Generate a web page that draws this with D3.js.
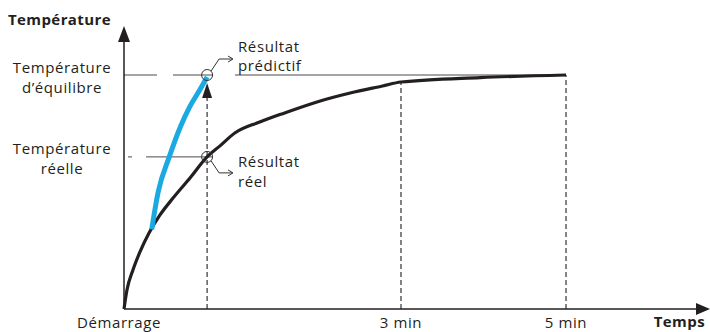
<!DOCTYPE html>
<html>
<head>
<meta charset="utf-8">
<script src="https://cdn.jsdelivr.net/npm/d3@7"></script>
<style>
  body { margin: 0; background: #fff; }
  text { font-family: "Open Sans", sans-serif; fill: #231f20; font-size: 15px; letter-spacing: 0.6px; }
  text.bold { font-weight: bold; letter-spacing: 0.4px; }
</style>
</head>
<body>
<div id="chart_area"></div>
<script>
var width = 710, height = 332;

// time in minutes, temperature in % of equilibrium
var realTime = [0, 0.032, 0.097, 0.173, 0.271, 0.39, 0.531, 0.715, 0.9, 1.04, 1.2, 1.47, 1.74, 2.09, 2.45, 2.8, 3.0, 3.96, 5];
var realTemp = [0, 8.1, 16.7, 24.4, 32.5, 40.2, 47.4, 56.0, 65, 69.7, 75.2, 79.9, 83.8, 88.5, 92.3, 95.3, 97.0, 98.9, 100];

var predTime = [0.30, 0.37, 0.49, 0.61, 0.71, 0.82, 0.90];
var predTemp = [34.0, 50.0, 65.0, 77.8, 86.3, 93.6, 99.1];

var tickTimes = [0, 3, 5];
var tickLabels = ["Démarrage", "3 min", "5 min"];

var equilibriumTemp = 100, measuredTemp = 65, predictTime = 0.9;

var svg = d3.select("#chart_area")
    .append("svg")
    .attr("width", width)
    .attr("height", height);

var x = d3.scaleLinear().domain([0, 3, 5]).range([124, 401, 566]);
var y = d3.scaleLinear().domain([0, 100]).range([309, 75]);

function hline(x1, x2, v) {
    svg.append("line").attr("x1", x1).attr("x2", x2)
        .attr("y1", y(v)).attr("y2", y(v))
        .attr("stroke", "#4a4a4a").attr("stroke-width", 1);
}
// reference lines
hline(124, 157, equilibriumTemp);
hline(173, x(predictTime) + 6, equilibriumTemp);
hline(235, x(5), equilibriumTemp);
hline(128, 132, measuredTemp);
hline(146, 213, measuredTemp);

// vertical dashed lines
var tops = [y(equilibriumTemp) + 22, y(97.0), y(equilibriumTemp)];
[predictTime, 3, 5].forEach(function (t, i) {
    svg.append("line")
        .attr("x1", x(t)).attr("x2", x(t))
        .attr("y1", y(0)).attr("y2", tops[i])
        .attr("stroke", "#333").attr("stroke-width", 1.2)
        .attr("stroke-dasharray", "5,3");
});

// arrow up on the prediction line
var ax = x(predictTime), ay = y(equilibriumTemp) + 8;
svg.append("path")
    .attr("d", "M" + ax + "," + ay + "L" + (ax - 5) + "," + (ay + 15) + "L" + (ax + 5) + "," + (ay + 15) + "Z")
    .attr("fill", "#231f20");

// curves
var line = d3.line()
    .x(function (d) { return x(d[0]); })
    .y(function (d) { return y(d[1]); })
    .curve(d3.curveMonotoneX);

svg.append("path")
    .datum(realTime.map(function (t, i) { return [t, realTemp[i]]; }))
    .attr("d", line)
    .attr("fill", "none")
    .attr("stroke", "#231f20")
    .attr("stroke-width", 3.2);

svg.append("path")
    .datum(predTime.map(function (t, i) { return [t, predTemp[i]]; }))
    .attr("d", line)
    .attr("fill", "none")
    .attr("stroke", "#1ba9e1")
    .attr("stroke-width", 5);

// circles
[equilibriumTemp, measuredTemp].forEach(function (v) {
    svg.append("circle")
        .attr("cx", x(predictTime)).attr("cy", y(v)).attr("r", 5.5)
        .attr("fill", "none").attr("stroke", "#333").attr("stroke-width", 1);
});

// callouts
function callout(cy, dir) {
    var sx = x(predictTime) + 4, sy = cy + dir * 4;
    var ky = cy + dir * 16;
    svg.append("path")
        .attr("d", "M" + sx + "," + sy + "L" + (sx + 8) + "," + ky + "L" + 232 + "," + ky)
        .attr("fill", "none").attr("stroke", "#333").attr("stroke-width", 1);
    svg.append("path")
        .attr("d", "M228," + (ky - 3) + "L233," + ky + "L228," + (ky + 3))
        .attr("fill", "none").attr("stroke", "#333").attr("stroke-width", 1);
}
callout(y(equilibriumTemp), -1);
callout(y(measuredTemp), 1);

svg.append("text").attr("x", 238).attr("y", 52).text("Résultat");
svg.append("text").attr("x", 238).attr("y", 71).text("prédictif");
svg.append("text").attr("x", 238).attr("y", 167).text("Résultat");
svg.append("text").attr("x", 238).attr("y", 187).text("réel");

// axes
svg.append("line").attr("x1", 124).attr("x2", 124).attr("y1", y(0)).attr("y2", 38)
    .attr("stroke", "#231f20").attr("stroke-width", 1.5);
svg.append("path").attr("d", "M124,26L118,42L130,42Z").attr("fill", "#231f20");
svg.append("line").attr("x1", 124).attr("x2", 700).attr("y1", y(0)).attr("y2", y(0))
    .attr("stroke", "#231f20").attr("stroke-width", 1.5);
svg.append("path").attr("d", "M710," + y(0) + "L696," + (y(0) - 6) + "L696," + (y(0) + 6) + "Z")
    .attr("fill", "#231f20");

// tick labels
tickTimes.forEach(function (t, i) {
    svg.append("text")
        .attr("x", i === 0 ? x(t) - 5 : x(t)).attr("y", 328)
        .attr("text-anchor", "middle")
        .text(tickLabels[i]);
});

// y labels
svg.append("text").attr("x", 62).attr("y", 73).attr("text-anchor", "middle").text("Température");
svg.append("text").attr("x", 62).attr("y", 93).attr("text-anchor", "middle").text("d’équilibre");
svg.append("text").attr("x", 62).attr("y", 154).attr("text-anchor", "middle").text("Température");
svg.append("text").attr("x", 62).attr("y", 174).attr("text-anchor", "middle").text("réelle");

svg.append("text").attr("class", "bold").attr("x", 8).attr("y", 25).text("Température");
svg.append("text").attr("class", "bold").attr("x", 705).attr("y", 327).attr("text-anchor", "end").text("Temps");
</script>
</body>
</html>
